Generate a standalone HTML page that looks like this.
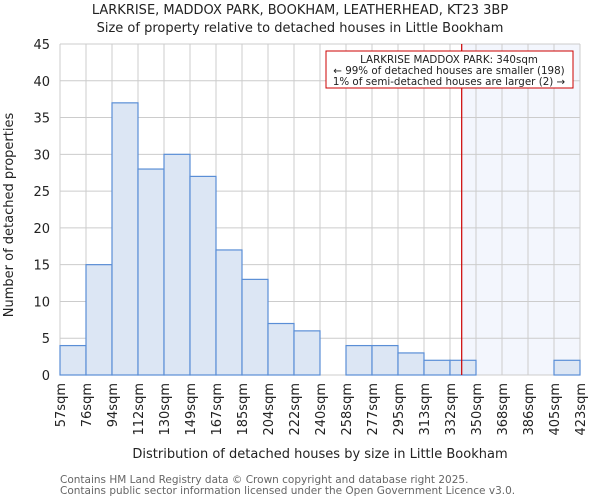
<!DOCTYPE html>
<html><head><meta charset="utf-8"><style>
body{margin:0;background:#fff;font-family:"DejaVu Sans","Liberation Sans",sans-serif}
svg text{font-family:"DejaVu Sans","Liberation Sans",sans-serif;fill:#222}
</style></head><body>
<svg id="c" width="600" height="500"></svg>
<script>
const categories=["57sqm","76sqm","94sqm","112sqm","130sqm","149sqm","167sqm","185sqm","204sqm","222sqm","240sqm","258sqm","277sqm","295sqm","313sqm","332sqm","350sqm","368sqm","386sqm","405sqm","423sqm"];
const counts=[4,15,37,28,30,27,17,13,7,6,0,4,4,3,2,2,0,0,0,2];
const yTicks=[0,5,10,15,20,25,30,35,40,45];
const markerIndex=15.45;
const NS="http://www.w3.org/2000/svg",svg=document.getElementById('c');
const L=60,R=580,T=44,B=375,yMax=45,n=counts.length;
const x=i=>L+(R-L)*i/n, y=v=>B-(B-T)*v/yMax;
function el(t,a,txt){const e=document.createElementNS(NS,t);for(const k in a)e.setAttribute(k,a[k]);if(txt!==undefined)e.textContent=txt;svg.appendChild(e);return e;}
let e=el('rect',{x:x(markerIndex),y:T,width:R-x(markerIndex),height:B-T,fill:'#f3f6fd'});

for(let i=0;i<=n;i++){e=el('line',{x1:x(i),x2:x(i),y1:T,y2:B,stroke:'#ccc'});}
yTicks.forEach(v=>{e=el('line',{x1:L,x2:R,y1:y(v),y2:y(v),stroke:'#ccc'});
e=el('text',{x:L-10,y:y(v)+5,'text-anchor':'end','font-size':13},v);});
counts.forEach((v,i)=>{if(!v)return;e=el('rect',{x:x(i),y:y(v),width:x(i+1)-x(i),height:B-y(v),fill:'#dce6f4',stroke:'#5a8ed6','stroke-width':1.2});});
categories.forEach((c,i)=>{const cx=x(i)+5;e=el('text',{x:0,y:0,transform:`translate(${cx},383) rotate(-90)`,'text-anchor':'end','font-size':13},c);});
e=el('line',{x1:x(markerIndex),x2:x(markerIndex),y1:T,y2:B,stroke:'#c00','stroke-width':1.2});
</script>
<svg width="600" height="500" style="position:absolute;left:0;top:0">
<text x="300" y="14" text-anchor="middle" font-size="13">LARKRISE, MADDOX PARK, BOOKHAM, LEATHERHEAD, KT23 3BP</text>
<text x="300" y="32" text-anchor="middle" font-size="13">Size of property relative to detached houses in Little Bookham</text>
<rect x="326" y="51" width="247" height="37" fill="#fff" stroke="#c00"/>
<text x="449" y="63" text-anchor="middle" font-size="10.3">LARKRISE MADDOX PARK: 340sqm</text>
<text x="449" y="74" text-anchor="middle" font-size="10.3">← 99% of detached houses are smaller (198)</text>
<text x="449" y="85" text-anchor="middle" font-size="10.3">1% of semi-detached houses are larger (2) →</text>
<text transform="translate(13,215) rotate(-90)" text-anchor="middle" font-size="13">Number of detached properties</text>
<text x="320" y="458" text-anchor="middle" font-size="13">Distribution of detached houses by size in Little Bookham</text>
<text x="60" y="483" font-size="10.5" style="fill:#666">Contains HM Land Registry data © Crown copyright and database right 2025.</text>
<text x="60" y="494" font-size="10.5" style="fill:#666">Contains public sector information licensed under the Open Government Licence v3.0.</text>
</svg>
</body></html>
